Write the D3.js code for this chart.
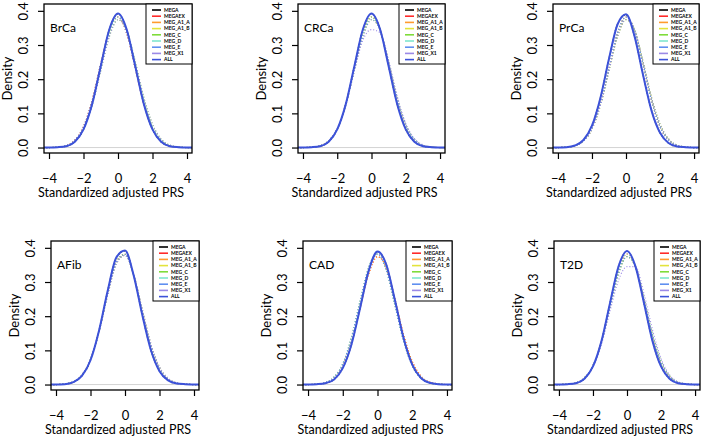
<!DOCTYPE html>
<html>
<head>
<meta charset="utf-8">
<script src="https://cdn.jsdelivr.net/npm/d3@7"></script>
<style>
  body { margin: 0; background: #fff; }
  svg { display: block; }
  text { font-family: Lato, "Open Sans", sans-serif; fill: #000; }
</style>
</head>
<body>
<svg id="chart"></svg>
<script>
// density estimates, one value per grid point
const xGrid = [-4.5, -4, -3.5, -3, -2.5, -2, -1.5, -1, -0.5, 0, 0.5, 1, 1.5, 2, 2.5, 3, 3.5, 4, 4.5]

const panelNames = ['BrCa', 'CRCa', 'PrCa', 'AFib', 'CAD', 'T2D']
const seriesNames = ['MEGA', 'MEGAEX', 'MEG_A1_A', 'MEG_A1_B', 'MEG_C', 'MEG_D', 'MEG_E', 'MEG_X1', 'ALL']
const seriesColors = ['#000000', '#ff2a2a', '#ff9b2e', '#e3e33c', '#7fdc3a', '#7fe6cf', '#5f8ff0', '#9b89e6', '#3c52d9']

const xTicks = [-4, -2, 0, 2, 4]
const yTicks = [0, 0.1, 0.2, 0.3, 0.4]

const densBrCa = [
  [0, 0, .001, .004, .017, .053, .127, .238, .346, .391, .346, .238, .127, .053, .017, .004, .001, 0, 0],
  [0, 0, .001, .006, .022, .061, .138, .245, .344, .382, .335, .232, .127, .055, .019, .005, .001, 0, 0],
  [0, 0, .001, .006, .022, .061, .138, .245, .344, .382, .335, .232, .127, .055, .019, .005, .001, 0, 0],
  [0, 0, .001, .005, .019, .055, .127, .232, .335, .382, .344, .245, .138, .061, .022, .006, .001, 0, 0],
  [0, 0, .001, .005, .019, .055, .124, .225, .325, .374, .344, .251, .146, .068, .025, .007, .002, 0, 0],
  [0, 0, .001, .005, .019, .055, .127, .232, .335, .382, .344, .245, .138, .061, .022, .006, .001, 0, 0],
  [0, 0, .001, .006, .022, .061, .138, .245, .344, .382, .335, .232, .127, .055, .019, .005, .001, 0, 0],
  [0, 0, .001, .005, .019, .055, .124, .225, .325, .374, .344, .251, .146, .068, .025, .007, .002, 0, 0],
  [0, 0, .001, .004, .017, .053, .127, .238, .346, .392, .346, .238, .127, .053, .017, .004, .001, 0, 0]
]

const densCRCa = [
  [0, 0, .001, .004, .017, .053, .127, .238, .346, .391, .346, .238, .127, .053, .017, .004, .001, 0, 0],
  [0, 0, .001, .005, .019, .055, .127, .232, .335, .382, .344, .245, .138, .061, .022, .006, .001, 0, 0],
  [0, 0, .001, .005, .019, .055, .127, .232, .335, .382, .344, .245, .138, .061, .022, .006, .001, 0, 0],
  [0, 0, .001, .005, .019, .055, .124, .225, .325, .374, .344, .251, .146, .068, .025, .007, .002, 0, 0],
  [0, 0, .001, .005, .019, .055, .127, .232, .335, .382, .344, .245, .138, .061, .022, .006, .001, 0, 0],
  [0, 0, .001, .005, .019, .055, .127, .232, .335, .382, .344, .245, .138, .061, .022, .006, .001, 0, 0],
  [0, 0, .001, .005, .019, .055, .124, .225, .325, .374, .344, .251, .146, .068, .025, .007, .002, 0, 0],
  [0, 0, .001, .005, .019, .056, .126, .226, .315, .345, .336, .255, .150, .070, .026, .008, .002, 0, 0],
  [0, 0, .001, .004, .017, .053, .127, .238, .346, .392, .346, .238, .127, .053, .017, .004, .001, 0, 0]
]

const densPrCa = [
  [0, 0, .001, .006, .022, .064, .146, .260, .360, .388, .326, .213, .108, .043, .013, .003, .001, 0, 0],
  [0, 0, .001, .005, .019, .055, .127, .232, .335, .382, .344, .245, .138, .061, .022, .006, .001, 0, 0],
  [0, 0, .001, .005, .019, .055, .127, .232, .335, .382, .344, .245, .138, .061, .022, .006, .001, 0, 0],
  [0, 0, .001, .005, .019, .055, .124, .225, .325, .374, .344, .251, .146, .068, .025, .007, .002, 0, 0],
  [0, 0, .001, .005, .019, .055, .124, .225, .325, .374, .344, .251, .146, .068, .025, .007, .002, 0, 0],
  [0, 0, .001, .005, .019, .055, .127, .232, .335, .382, .344, .245, .138, .061, .022, .006, .001, 0, 0],
  [0, 0, .001, .005, .019, .055, .127, .232, .335, .382, .344, .245, .138, .061, .022, .006, .001, 0, 0],
  [0, 0, .001, .005, .019, .055, .124, .225, .325, .374, .344, .251, .146, .068, .025, .007, .002, 0, 0],
  [0, 0, .001, .006, .022, .064, .146, .260, .360, .390, .326, .213, .108, .043, .013, .003, .001, 0, 0]
]

const densAFib = [
  [0, 0, .001, .007, .025, .071, .159, .275, .372, .391, .320, .204, .101, .039, .012, .003, .001, 0, 0],
  [0, 0, .002, .008, .027, .073, .157, .267, .359, .381, .320, .213, .111, .046, .015, .004, .001, 0, 0],
  [0, 0, .002, .008, .028, .074, .156, .263, .353, .378, .323, .220, .119, .051, .018, .005, .001, 0, 0],
  [0, 0, .002, .008, .027, .073, .157, .267, .359, .381, .320, .213, .111, .046, .015, .004, .001, 0, 0],
  [0, 0, .002, .008, .027, .073, .157, .267, .359, .381, .320, .213, .111, .046, .015, .004, .001, 0, 0],
  [0, 0, .002, .008, .028, .074, .156, .263, .353, .378, .323, .220, .119, .051, .018, .005, .001, 0, 0],
  [0, 0, .002, .008, .027, .073, .157, .267, .359, .381, .320, .213, .111, .046, .015, .004, .001, 0, 0],
  [0, 0, .002, .008, .028, .074, .156, .263, .353, .378, .323, .220, .119, .051, .018, .005, .001, 0, 0],
  [0, 0, .001, .007, .025, .071, .159, .275, .372, .392, .320, .204, .101, .039, .012, .003, .001, 0, 0]
]

const densCAD = [
  [0, 0, .001, .004, .015, .048, .117, .224, .334, .388, .352, .248, .136, .058, .019, .005, .001, 0, 0],
  [0, 0, .001, .005, .019, .055, .124, .225, .325, .374, .344, .251, .146, .068, .025, .007, .002, 0, 0],
  [0, 0, .001, .005, .019, .055, .124, .225, .325, .374, .344, .251, .146, .068, .025, .007, .002, 0, 0],
  [0, 0, .001, .005, .019, .055, .127, .232, .335, .382, .344, .245, .138, .061, .022, .006, .001, 0, 0],
  [0, 0, .001, .006, .022, .061, .138, .245, .344, .382, .335, .232, .127, .055, .019, .005, .001, 0, 0],
  [0, 0, .001, .005, .019, .055, .127, .232, .335, .382, .344, .245, .138, .061, .022, .006, .001, 0, 0],
  [0, 0, .001, .006, .022, .061, .138, .245, .344, .382, .335, .232, .127, .055, .019, .005, .001, 0, 0],
  [0, 0, .001, .005, .019, .055, .127, .232, .335, .382, .344, .245, .138, .061, .022, .006, .001, 0, 0],
  [0, 0, .001, .004, .015, .048, .117, .224, .334, .389, .352, .248, .136, .058, .019, .005, .001, 0, 0]
]

const densT2D = [
  [0, 0, .001, .004, .017, .053, .127, .238, .345, .390, .345, .238, .127, .053, .017, .004, .001, 0, 0],
  [0, 0, .001, .005, .019, .055, .127, .232, .335, .382, .344, .245, .138, .061, .022, .006, .001, 0, 0],
  [0, 0, .001, .005, .019, .055, .127, .232, .335, .382, .344, .245, .138, .061, .022, .006, .001, 0, 0],
  [0, 0, .001, .005, .019, .055, .124, .225, .325, .374, .344, .251, .146, .068, .025, .007, .002, 0, 0],
  [0, 0, .001, .005, .019, .055, .124, .225, .325, .374, .344, .251, .146, .068, .025, .007, .002, 0, 0],
  [0, 0, .001, .005, .019, .055, .127, .232, .335, .382, .344, .245, .138, .061, .022, .006, .001, 0, 0],
  [0, 0, .001, .005, .019, .055, .124, .225, .325, .374, .344, .251, .146, .068, .025, .007, .002, 0, 0],
  [0, 0, .001, .005, .018, .052, .118, .215, .305, .345, .345, .265, .160, .076, .028, .008, .002, 0, 0],
  [0, 0, .001, .004, .017, .053, .127, .238, .345, .391, .345, .238, .127, .053, .017, .004, .001, 0, 0]
]

const panelData = [densBrCa, densCRCa, densPrCa, densAFib, densCAD, densT2D]

// layout of the six plot boxes
const boxes = [
  {x: 44, y: 4, w: 148}, {x: 298, y: 4, w: 147}, {x: 553, y: 4, w: 146},
  {x: 51, y: 241, w: 148}, {x: 303, y: 241, w: 149}, {x: 554, y: 241, w: 146}
]
const boxH = 149

let width = 704,
height = 438

let svg = d3.select('#chart')
  .attr('width', width)
  .attr('height', height)

let drawPanel = (name, p) => {
  let b = boxes[p]
  let xScale = d3.scaleLinear().domain([-4.29, 4.29]).range([0, b.w])
  let yScale = d3.scaleLinear().domain([-0.016, 0.42]).range([boxH, 0])

  let g = svg.append('g').attr('transform', `translate(${b.x},${b.y})`)

  g.append('clipPath').attr('id', 'clip' + p)
    .append('rect').attr('width', b.w).attr('height', boxH)

  let plot = g.append('g').attr('clip-path', `url(#clip${p})`)

  // zero line like R's density plot
  plot.append('line')
    .attr('x1', 0).attr('x2', b.w)
    .attr('y1', yScale(0)).attr('y2', yScale(0))
    .attr('stroke', '#c8c8c8').attr('stroke-width', 0.8)

  let line = d3.line()
    .x((d, i) => xScale(xGrid[i]))
    .y(d => yScale(d))
    .curve(d3.curveMonotoneX)

  panelData[p].forEach((vals, s) => {
    let isAll = seriesNames[s] === 'ALL'
    plot.append('path')
      .attr('d', line(vals))
      .attr('fill', 'none')
      .attr('stroke', seriesColors[s])
      .attr('stroke-width', isAll ? 2 : 1.2)
      .attr('stroke-dasharray', isAll ? null : '1,2')
  })

  // x axis
  let xAxis = g.append('g')
    .attr('transform', `translate(0,${boxH})`)
    .call(d3.axisBottom(xScale).tickValues(xTicks).tickSize(6).tickPadding(15))
  xAxis.select('.domain').remove()
  xAxis.selectAll('line').attr('stroke', '#000').attr('stroke-width', 1.2)
  xAxis.selectAll('text').attr('font-size', 13).attr('font-family', 'Lato')

  // y axis with rotated labels
  let yAxis = g.append('g')
    .call(d3.axisLeft(yScale).tickValues(yTicks).tickSize(6).tickFormat(d3.format('.1f')))
  yAxis.select('.domain').remove()
  yAxis.selectAll('line').attr('stroke', '#000').attr('stroke-width', 1.2)
  yAxis.selectAll('text')
    .attr('x', null).attr('dy', '0.35em')
    .attr('text-anchor', 'middle')
    .attr('transform', 'translate(-21,0) rotate(-90)')
    .attr('font-size', 13).attr('font-family', 'Lato')

  // plot frame
  g.append('rect')
    .attr('width', b.w).attr('height', boxH)
    .attr('fill', 'none').attr('stroke', '#000').attr('stroke-width', 1.3)

  // axis titles
  g.append('text')
    .attr('x', b.w / 2 - 7).attr('y', boxH + 40).attr('dy', '0.35em')
    .attr('text-anchor', 'middle').attr('font-size', 12.5)
    .text('Standardized adjusted PRS')
  g.append('text')
    .attr('transform', `translate(-37,${boxH / 2}) rotate(-90)`)
    .attr('dy', '0.35em')
    .attr('text-anchor', 'middle').attr('font-size', 13)
    .text('Density')

  // panel label
  g.append('text')
    .attr('x', 6).attr('y', 28)
    .attr('font-size', 12)
    .text(name)

  // legend, top right
  let lw = 46, lh = 60
  let leg = g.append('g').attr('transform', `translate(${b.w - lw},0)`)
  leg.append('rect')
    .attr('width', lw).attr('height', lh)
    .attr('fill', '#fff').attr('stroke', '#000').attr('stroke-width', 1)
  seriesNames.forEach((s, i) => {
    let cy = 6 + i * 6.2
    leg.append('line')
      .attr('x1', 6).attr('x2', 15).attr('y1', cy).attr('y2', cy)
      .attr('stroke', seriesColors[i]).attr('stroke-width', 1.6)
    leg.append('text')
      .attr('x', 18).attr('y', cy).attr('dy', '0.35em')
      .attr('font-size', 5).attr('font-weight', 'bold')
      .attr('font-family', 'Liberation Sans')
      .text(s)
  })
}

panelNames.forEach(drawPanel)
</script>
</body>
</html>
